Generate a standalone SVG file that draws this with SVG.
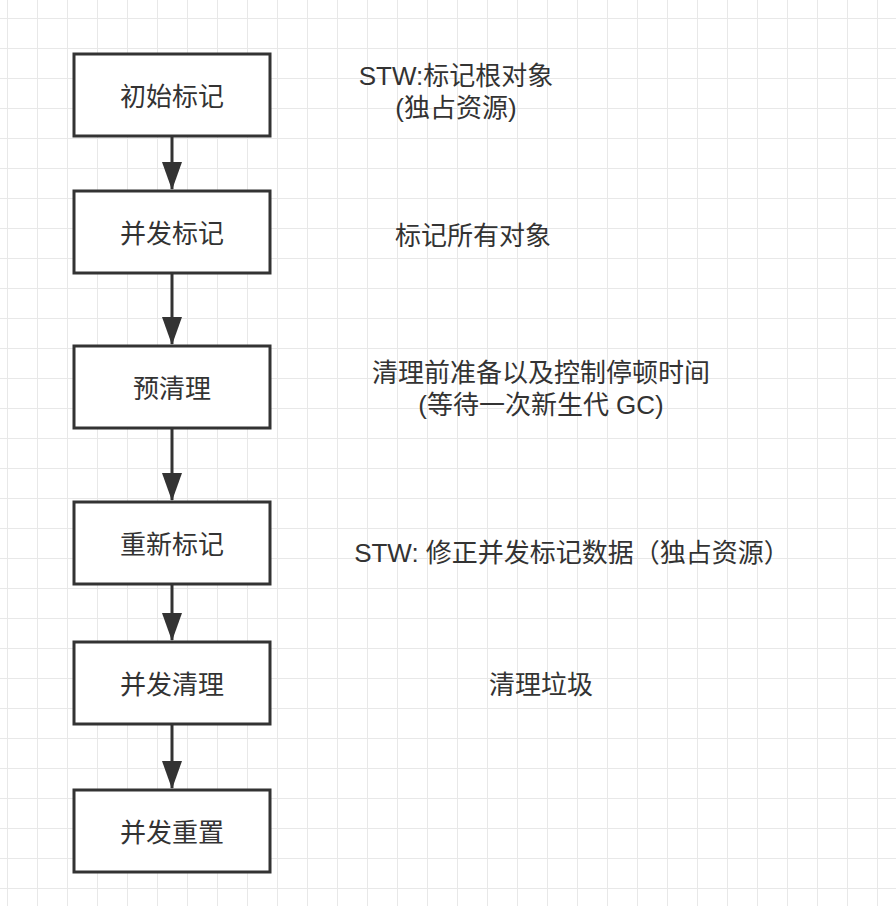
<svg xmlns="http://www.w3.org/2000/svg" width="896" height="906" viewBox="0 0 896 906">
<style>
.box{fill:#ffffff;stroke:#333333;stroke-width:3}
.lbl{font-family:"Liberation Sans","Noto Sans CJK SC",sans-serif;font-size:26px;fill:#333333;text-anchor:middle}
.note{font-family:"Liberation Sans","Noto Sans CJK SC",sans-serif;font-size:26px;fill:#333333;text-anchor:middle}
.edge{stroke:#333333;stroke-width:3;fill:none}
</style>
<defs>
<pattern id="grid" x="7" y="18" width="30" height="30" patternUnits="userSpaceOnUse">
<path d="M0,0 V30 M0,0 H30" stroke="#e8e8e8" stroke-width="2" fill="none"/>
</pattern>
<marker id="arr" viewBox="0 0 28 20" markerWidth="28" markerHeight="20" refX="27" refY="10" orient="auto" markerUnits="userSpaceOnUse">
<path d="M0,0 L28,10 L0,20 Z" fill="#333333"/>
</marker>
</defs>
<rect width="896" height="906" fill="#ffffff"/>
<rect width="896" height="906" fill="url(#grid)"/>
<g id="connectors">
<line class="edge" x1="172" y1="137" x2="172" y2="189" marker-end="url(#arr)"/>
<line class="edge" x1="172" y1="274" x2="172" y2="344" marker-end="url(#arr)"/>
<line class="edge" x1="172" y1="429" x2="172" y2="500" marker-end="url(#arr)"/>
<line class="edge" x1="172" y1="585" x2="172" y2="640" marker-end="url(#arr)"/>
<line class="edge" x1="172" y1="725" x2="172" y2="788" marker-end="url(#arr)"/>
</g>
<g id="n1"><rect class="box" x="74" y="54" width="196" height="82"/><text class="lbl" x="172" y="106">初始标记</text></g>
<g id="n2"><rect class="box" x="74" y="191" width="196" height="82"/><text class="lbl" x="172" y="243">并发标记</text></g>
<g id="n3"><rect class="box" x="74" y="346" width="196" height="82"/><text class="lbl" x="172" y="398">预清理</text></g>
<g id="n4"><rect class="box" x="74" y="502" width="196" height="82"/><text class="lbl" x="172" y="554">重新标记</text></g>
<g id="n5"><rect class="box" x="74" y="642" width="196" height="82"/><text class="lbl" x="172" y="694">并发清理</text></g>
<g id="n6"><rect class="box" x="74" y="790" width="196" height="82"/><text class="lbl" x="172" y="842">并发重置</text></g>
<g id="notes">
<text class="note" x="456" y="85">STW:标记根对象</text>
<text class="note" x="456" y="117">(独占资源)</text>
<text class="note" x="473" y="245">标记所有对象</text>
<text class="note" x="541" y="382">清理前准备以及控制停顿时间</text>
<text class="note" x="541" y="414">(等待一次新生代 GC)</text>
<text class="note" x="572" y="562">STW: 修正并发标记数据（独占资源）</text>
<text class="note" x="541" y="694">清理垃圾</text>
</g>
</svg>
